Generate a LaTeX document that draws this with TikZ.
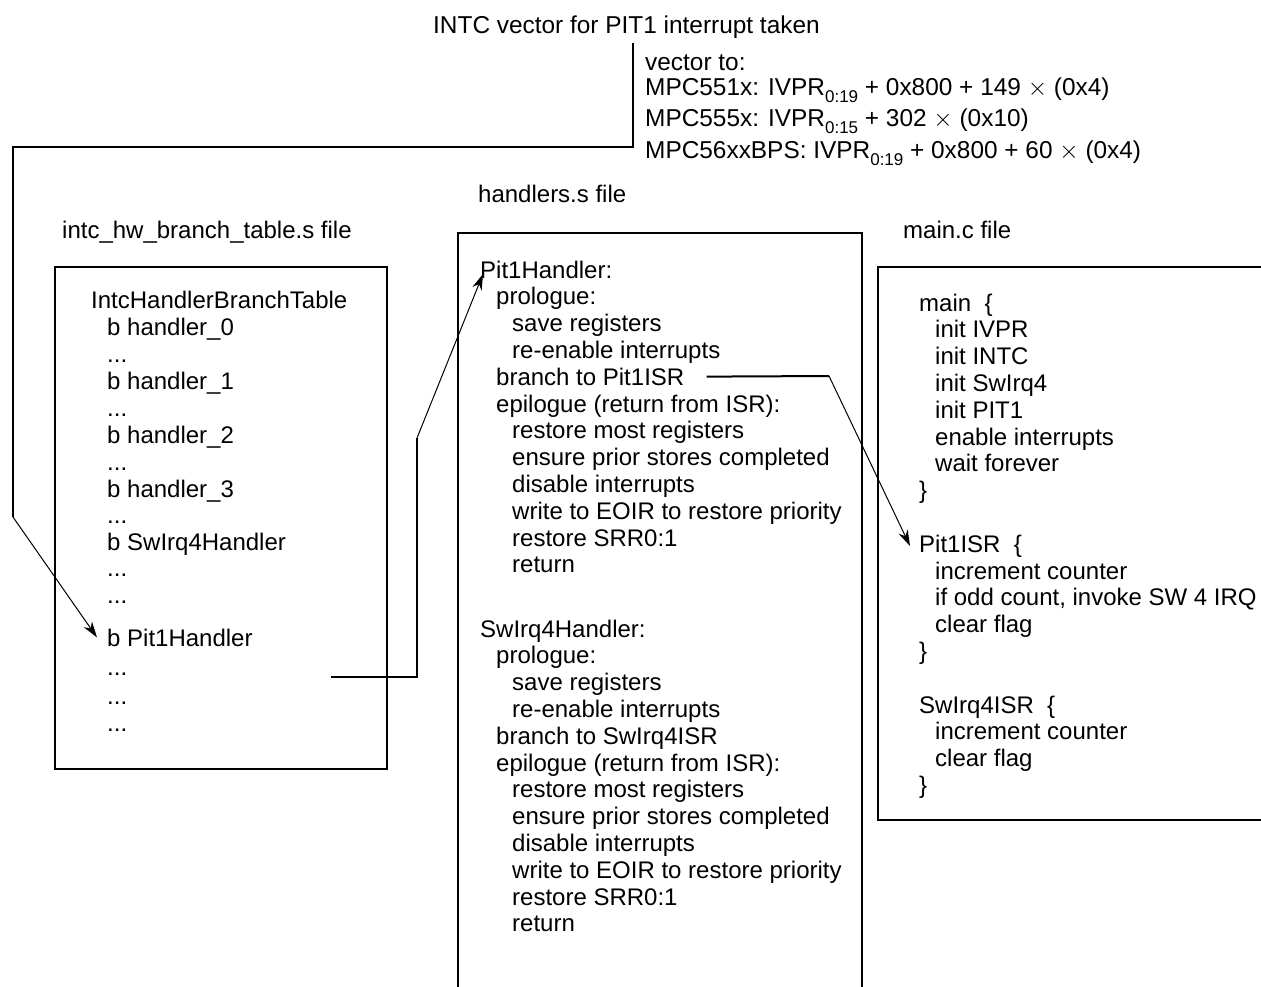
\documentclass[tikz,border=0pt]{standalone}
\usepackage{fontspec}
\setmainfont{Liberation Sans}
\usetikzlibrary{arrows.meta}

% lowered index used in the IVPR bit ranges
\newcommand\ivsub[1]{\raisebox{-7pt}{\fontsize{17}{17}\selectfont #1}}
% light multiplication sign in the vector formulas
\newcommand\mulsign{{\fontsize{23}{23}\selectfont$\times$}}
% elided table entries
\newcommand\skipped{...}

\tikzset{
  code/.style={anchor=base west, inner sep=0pt, font=\fontsize{24}{27}\selectfont},
  head/.style={code, font=\fontsize{24.4}{27}\selectfont},
  frame/.style={line width=2pt},
  wire/.style={line width=2pt},
  jump/.style={line width=1pt, -{Stealth[length=16pt,width=10pt]}},
}

\begin{document}
\begin{tikzpicture}[x=1pt,y=-1pt]
\useasboundingbox (0,0) rectangle (1261,986);

% ---- headings ----
\node[head] (title) at (433,33) {INTC vector for PIT1 interrupt taken};
\node[head] (v1) at (645,70)  {vector to:};
\node[head] (v2) at (645,95)  {MPC551x: IVPR\ivsub{0:19} + 0x800 + 149 \mulsign{} (0x4)};
\node[head] (v3) at (645,126) {MPC555x: IVPR\ivsub{0:15} + 302 \mulsign{} (0x10)};
\node[head] (v4) at (645,158) {MPC56xxBPS: IVPR\ivsub{0:19} + 0x800 + 60 \mulsign{} (0x4)};
\node[code] (hfile) at (478,202) {handlers.s file};
\node[code] (tfile) at (62,238)  {intc\_hw\_branch\_table.s file};
\node[code] (mfile) at (903,238) {main.c file};

% ---- file frames ----
\draw[frame] (55,267) rectangle (387,769);
\draw[frame] (458,995) -- (458,233) -- (862,233) -- (862,995);
\draw[frame] (1270,267) -- (878,267) -- (878,820) -- (1270,820);

% ---- branch table listing ----
\foreach \yy/\lv/\tx [count=\i] in {
  308/0/IntcHandlerBranchTable,
  335/1/b handler\_0,
  362/1/\skipped,
  389/1/b handler\_1,
  416/1/\skipped,
  443/1/b handler\_2,
  470/1/\skipped,
  497/1/b handler\_3,
  523/1/\skipped,
  550/1/b SwIrq4Handler,
  576/1/\skipped,
  603/1/\skipped,
  646/1/b Pit1Handler,
  675/1/\skipped,
  704/1/\skipped,
  731/1/\skipped}
  \node[code] (t\i) at (91+16*\lv,\yy) {\tx};

% ---- handlers listing ----
\foreach \yy/\lv/\tx [count=\i] in {
  278.0/0/Pit1Handler:,
  304.8/1/prologue:,
  331.6/2/save registers,
  358.4/2/re-enable interrupts,
  385.2/1/branch to Pit1ISR,
  412.0/1/epilogue (return from ISR):,
  438.8/2/restore most registers,
  465.6/2/ensure prior stores completed,
  492.4/2/disable interrupts,
  519.2/2/write to EOIR to restore priority,
  546.0/2/restore SRR0:1,
  572.8/2/return,
  637.0/0/SwIrq4Handler:,
  663.8/1/prologue:,
  690.6/2/save registers,
  717.4/2/re-enable interrupts,
  744.2/1/branch to SwIrq4ISR,
  771.0/1/epilogue (return from ISR):,
  797.8/2/restore most registers,
  824.6/2/ensure prior stores completed,
  851.4/2/disable interrupts,
  878.2/2/write to EOIR to restore priority,
  905.0/2/restore SRR0:1,
  931.8/2/return}
  \node[code] (h\i) at (480+16*\lv,\yy) {\tx};

% ---- main.c listing ----
\foreach \yy/\lv/\tx [count=\i] in {
  311.0/0/main\ \ \{,
  337.8/1/init IVPR,
  364.6/1/init INTC,
  391.4/1/init SwIrq4,
  418.2/1/init PIT1,
  445.0/1/enable interrupts,
  471.8/1/wait forever,
  498.6/0/\},
  552.2/0/Pit1ISR\ \ \{,
  579.0/1/increment counter,
  605.8/1/{if odd count, invoke SW 4 IRQ},
  632.6/1/clear flag,
  659.4/0/\},
  713.0/0/SwIrq4ISR\ \ \{,
  739.8/1/increment counter,
  766.6/1/clear flag,
  793.4/0/\}}
  \node[code] (m\i) at (919+16*\lv,\yy) {\tx};

% ---- connectors ----
% vector taken -> branch table entry
\coordinate (aTop) at (633,43);
\coordinate (aBend) at (13,517);
\draw[wire] (aTop) -- (633,147) -- (13,147) -- (aBend);
\draw[jump] (aBend) -- ([xshift=-10pt]t13.west);

% branch table entry -> Pit1Handler
\coordinate (bStart) at (331,677);
\coordinate (bBend) at (417,438);
\draw[wire] (bStart) -- (417,677) -- (bBend);
\draw[jump] (bBend) -- ([shift={(3pt,4pt)}]h1.base west);

% Pit1Handler branch -> Pit1ISR
\coordinate (cBend) at (829,376);
\draw[wire] ([xshift=22pt]h5.east) -- (cBend);
\draw[jump] (cBend) -- ([xshift=-9pt]m9.west);
\end{tikzpicture}
\end{document}
